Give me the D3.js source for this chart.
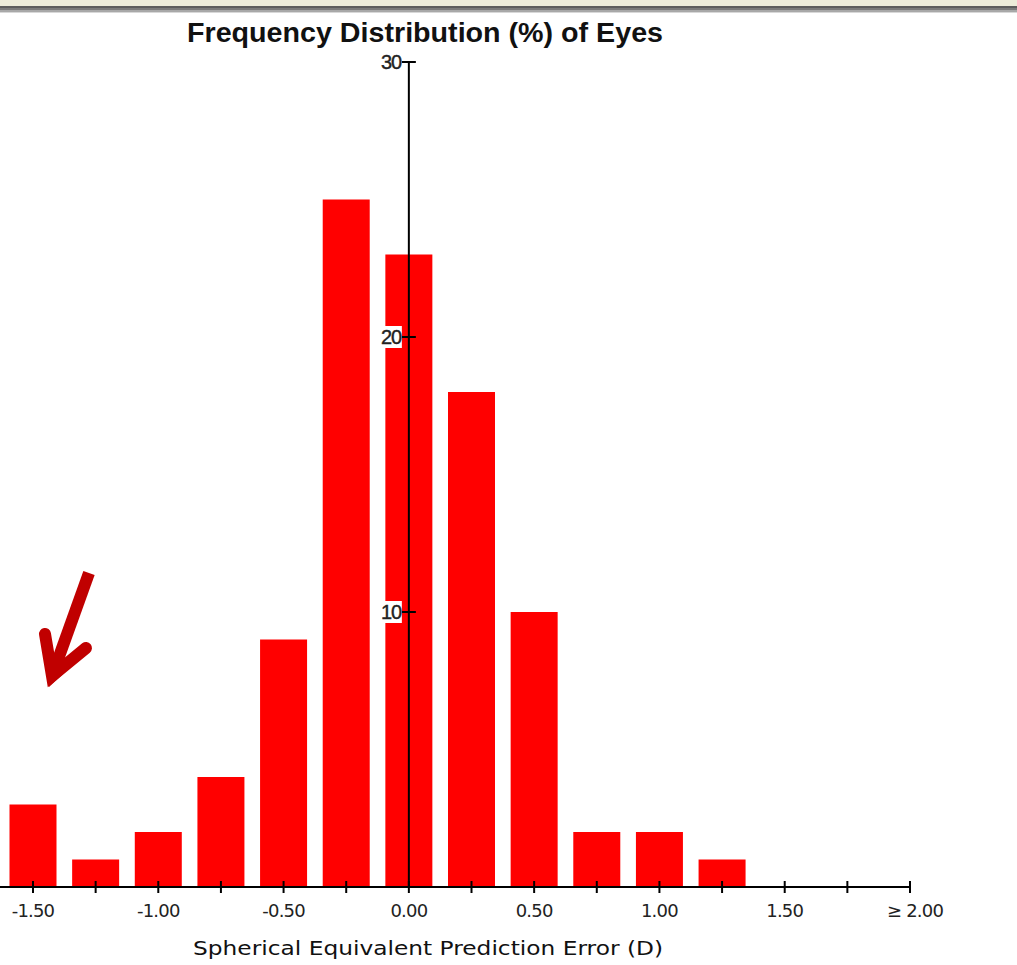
<!DOCTYPE html>
<html>
<head>
<meta charset="utf-8">
<script src="https://cdn.jsdelivr.net/npm/d3@7"></script>
<style>
  body { margin: 0; background: #fff; }
  svg { display: block; }
</style>
</head>
<body>
<div class="chart-container"></div>
<script>
//! DATA
const BINS = [-1.5, -1.25, -1.0, -0.75, -0.5, -0.25, 0.0, 0.25, 0.5, 0.75, 1.0, 1.25];
const PERCENT = [3, 1, 2, 4, 9, 25, 23, 18, 10, 2, 2, 1];
const X_TICKS = [-1.5, -1.25, -1.0, -0.75, -0.5, -0.25, 0, 0.25, 0.5, 0.75, 1.0, 1.25, 1.5, 1.75, 2.0];
const X_LABELS = ['-1.50', '', '-1.00', '', '-0.50', '', '0.00', '', '0.50', '', '1.00', '', '1.50', '', '\u2265 2.00'];
const Y_TICKS = [10, 20, 30];
const TITLE = 'Frequency Distribution (%) of Eyes';
const X_TITLE = 'Spherical Equivalent Prediction Error (D)';

//! CONSTS
const WIDTH = 1017;
const HEIGHT = 965;
const RED = '#ff0000';

const svg = d3.select('.chart-container')
  .append('svg')
  .attr('width', WIDTH)
  .attr('height', HEIGHT);

// window frame strip at the top
const frame = [['#ecebd9', 0, 6], ['#5c5c5c', 6, 2], ['#7a7a7a', 8, 2], ['#a8a8a8', 10, 2], ['#d8d8d8', 12, 1]];
frame.forEach(([c, y, h]) => {
  svg.append('rect').attr('x', 0).attr('y', y).attr('width', WIDTH).attr('height', h).attr('fill', c);
});

//! SCALES
const x = d3.scaleLinear().domain([-1.5, 2.0]).range([33, 910]);
const y = d3.scaleLinear().domain([0, 30]).range([887, 62]);
const barW = 47;

// bars
svg.append('g')
  .selectAll('rect')
  .data(BINS)
  .enter()
  .append('rect')
  .attr('x', d => x(d) - barW / 2)
  .attr('y', (d, i) => y(PERCENT[i]))
  .attr('width', barW)
  .attr('height', (d, i) => y(0) - y(PERCENT[i]))
  .attr('fill', RED);

// x axis
const xAxis = svg.append('g').attr('transform', `translate(0,${y(0)})`);
xAxis.append('line')
  .attr('x1', 0).attr('x2', x(2.0))
  .attr('stroke', '#000').attr('stroke-width', 2);
xAxis.selectAll('line.tick')
  .data(X_TICKS)
  .enter()
  .append('line')
  .attr('class', 'tick')
  .attr('x1', d => x(d)).attr('x2', d => x(d))
  .attr('y1', -6).attr('y2', 6)
  .attr('stroke', '#000').attr('stroke-width', 2);
xAxis.selectAll('text')
  .data(X_TICKS)
  .enter()
  .append('text')
  .attr('x', (d, i) => i === X_TICKS.length - 1 ? x(d) + 5 : x(d))
  .attr('y', 30)
  .attr('text-anchor', 'middle')
  .attr('font-family', 'DejaVu Sans, Verdana, sans-serif')
  .attr('font-size', 18)
  .attr('fill', '#222')
  .attr('letter-spacing', -0.8)
  .text((d, i) => X_LABELS[i]);

// y axis on the zero line
const yAxis = svg.append('g');
yAxis.append('line')
  .attr('x1', x(0)).attr('x2', x(0))
  .attr('y1', y(30)).attr('y2', y(0))
  .attr('stroke', '#000').attr('stroke-width', 2);
yAxis.selectAll('line.tick')
  .data(Y_TICKS)
  .enter()
  .append('line')
  .attr('class', 'tick')
  .attr('x1', d => x(0) - 7).attr('x2', d => x(0) + 7)
  .attr('y1', d => y(d)).attr('y2', d => y(d))
  .attr('stroke', '#000').attr('stroke-width', 2);
const yLab = yAxis.selectAll('g.lab')
  .data(Y_TICKS)
  .enter()
  .append('g')
  .attr('class', 'lab');
yLab.append('rect')
  .attr('x', x(0) - 34).attr('y', d => y(d) - 11)
  .attr('width', 27).attr('height', 22)
  .attr('fill', d => d === 30 ? 'none' : '#fff');
yLab.append('text')
  .attr('x', x(0) - 8)
  .attr('y', d => y(d) + 7)
  .attr('text-anchor', 'end')
  .attr('font-family', 'Liberation Sans Narrow, Liberation Sans, Arial, sans-serif')
  .attr('font-size', 20)
  .attr('letter-spacing', -1.2)
  .attr('stroke', '#222')
  .attr('stroke-width', 0.4)
  .attr('fill', '#222')
  .text(d => d);

// titles
svg.append('text')
  .attr('x', 187).attr('y', 42)
  .attr('textLength', 476)
  .attr('lengthAdjust', 'spacingAndGlyphs')
  .attr('font-family', 'Liberation Sans Narrow, Liberation Sans, Arial, sans-serif')
  .attr('font-weight', 'bold')
  .attr('font-size', 27)
  .attr('fill', '#111')
  .text(TITLE);

svg.append('text')
  .attr('x', 193).attr('y', 955)
  .attr('textLength', 470)
  .attr('lengthAdjust', 'spacingAndGlyphs')
  .attr('font-family', 'DejaVu Sans, Verdana, sans-serif')
  .attr('font-size', 19)
  .attr('fill', '#111')
  .text(X_TITLE);

// annotation arrow
const arrow = svg.append('g')
  .attr('stroke', '#c00000')
  .attr('stroke-width', 12)
  .attr('fill', 'none');
arrow.append('line')
  .attr('x1', 89).attr('y1', 573).attr('x2', 56).attr('y2', 665)
  .attr('stroke-linecap', 'butt');
arrow.append('path')
  .attr('d', 'M45,634 L52,676 L86,648')
  .attr('stroke-linecap', 'round')
  .attr('stroke-linejoin', 'miter');
arrow.append('path')
  .attr('d', 'M43,648 L49,687 L74,664 Z')
  .attr('stroke', 'none')
  .attr('fill', '#c00000');
</script>
</body>
</html>
